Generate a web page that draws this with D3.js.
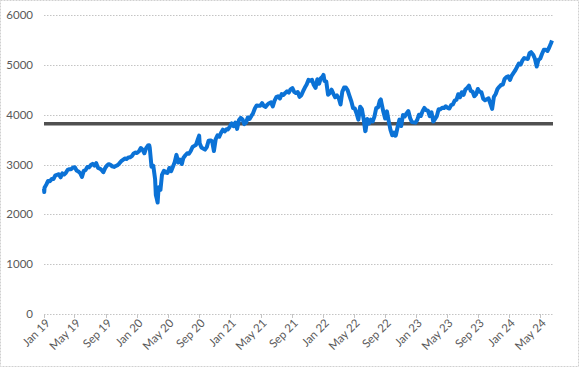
<!DOCTYPE html>
<html><head><meta charset="utf-8">
<script src="https://cdn.jsdelivr.net/npm/d3@7/dist/d3.min.js"></script>
<style>body{margin:0;background:#fff}svg{display:block}</style>
</head><body>
<svg id="c" width="580" height="368"></svg>
<script>
const yTicks = [0,1000,2000,3000,4000,5000,6000];
const xTickDates = ["2019-01-01","2019-05-01","2019-09-01","2020-01-01","2020-05-01","2020-09-01","2021-01-01","2021-05-01","2021-09-01","2022-01-01","2022-05-01","2022-09-01","2023-01-01","2023-05-01","2023-09-01","2024-01-01","2024-05-01"];
const xTickLabels = ["Jan 19","May 19","Sep 19","Jan 20","May 20","Sep 20","Jan 21","May 21","Sep 21","Jan 22","May 22","Sep 22","Jan 23","May 23","Sep 23","Jan 24","May 24"];
const refLevel = 3820;

const sp2019 = [["2019-01-02",2510],["2019-01-03",2448],["2019-01-04",2532],["2019-01-11",2596],["2019-01-18",2671],["2019-01-25",2665],["2019-02-01",2707],["2019-02-08",2708],["2019-02-15",2776],["2019-02-22",2793],["2019-03-01",2804],["2019-03-08",2743],["2019-03-15",2822],["2019-03-22",2800],["2019-03-29",2834],["2019-04-05",2893],["2019-04-12",2907],["2019-04-18",2905],["2019-04-26",2940],["2019-05-03",2946],["2019-05-10",2881],["2019-05-17",2860],["2019-05-24",2826],["2019-05-31",2752],["2019-06-07",2873],["2019-06-14",2887],["2019-06-21",2950],["2019-06-28",2942],["2019-07-05",2990],["2019-07-12",3014],["2019-07-19",2977],["2019-07-26",3026],["2019-08-02",2932],["2019-08-09",2919],["2019-08-16",2889],["2019-08-23",2847],["2019-08-30",2926],["2019-09-06",2979],["2019-09-13",3007],["2019-09-20",2992],["2019-09-27",2962],["2019-10-04",2952],["2019-10-11",2970],["2019-10-18",2986],["2019-10-25",3023],["2019-11-01",3067],["2019-11-08",3093],["2019-11-15",3120],["2019-11-22",3110],["2019-11-29",3141],["2019-12-06",3146],["2019-12-13",3169],["2019-12-20",3221],["2019-12-27",3240],["2019-12-31",3231]];
const sp2020 = [["2020-01-03",3235],["2020-01-10",3265],["2020-01-17",3330],["2020-01-24",3295],["2020-01-31",3226],["2020-02-07",3328],["2020-02-14",3380],["2020-02-19",3386],["2020-02-21",3338],["2020-02-28",2954],["2020-03-06",2972],["2020-03-13",2711],["2020-03-16",2386],["2020-03-20",2305],["2020-03-23",2237],["2020-03-27",2541],["2020-04-03",2489],["2020-04-09",2790],["2020-04-17",2875],["2020-04-24",2837],["2020-05-01",2831],["2020-05-08",2930],["2020-05-15",2864],["2020-05-22",2955],["2020-05-29",3044],["2020-06-05",3194],["2020-06-12",3041],["2020-06-19",3098],["2020-06-26",3009],["2020-07-02",3130],["2020-07-10",3185],["2020-07-17",3225],["2020-07-24",3216],["2020-07-31",3271],["2020-08-07",3351],["2020-08-14",3373],["2020-08-21",3397],["2020-08-28",3508],["2020-09-02",3580],["2020-09-04",3427],["2020-09-11",3341],["2020-09-18",3319],["2020-09-25",3298],["2020-10-02",3348],["2020-10-09",3477],["2020-10-16",3484],["2020-10-23",3465],["2020-10-30",3270],["2020-11-06",3510],["2020-11-13",3585],["2020-11-20",3558],["2020-11-27",3638],["2020-12-04",3699],["2020-12-11",3663],["2020-12-18",3709],["2020-12-24",3703],["2020-12-31",3756]];
const sp2021 = [["2021-01-08",3825],["2021-01-15",3768],["2021-01-22",3841],["2021-01-29",3714],["2021-02-05",3887],["2021-02-12",3934],["2021-02-19",3907],["2021-02-26",3811],["2021-03-05",3842],["2021-03-12",3943],["2021-03-19",3913],["2021-03-26",3975],["2021-04-01",4020],["2021-04-09",4129],["2021-04-16",4185],["2021-04-23",4180],["2021-04-30",4181],["2021-05-07",4233],["2021-05-14",4174],["2021-05-21",4156],["2021-05-28",4204],["2021-06-04",4230],["2021-06-11",4247],["2021-06-18",4166],["2021-06-25",4281],["2021-07-02",4352],["2021-07-09",4370],["2021-07-16",4327],["2021-07-23",4412],["2021-07-30",4395],["2021-08-06",4437],["2021-08-13",4468],["2021-08-20",4442],["2021-08-27",4509],["2021-09-03",4535],["2021-09-10",4459],["2021-09-17",4433],["2021-09-24",4455],["2021-10-01",4357],["2021-10-08",4391],["2021-10-15",4471],["2021-10-22",4545],["2021-10-29",4605],["2021-11-05",4697],["2021-11-12",4683],["2021-11-19",4698],["2021-11-26",4595],["2021-12-03",4538],["2021-12-10",4712],["2021-12-17",4621],["2021-12-23",4726],["2021-12-31",4766]];
const sp2022 = [["2022-01-03",4797],["2022-01-07",4677],["2022-01-14",4663],["2022-01-21",4398],["2022-01-28",4432],["2022-02-04",4501],["2022-02-11",4419],["2022-02-18",4349],["2022-02-25",4385],["2022-03-04",4329],["2022-03-11",4204],["2022-03-18",4463],["2022-03-25",4543],["2022-04-01",4546],["2022-04-08",4488],["2022-04-14",4393],["2022-04-22",4272],["2022-04-29",4132],["2022-05-06",4123],["2022-05-13",4024],["2022-05-20",3901],["2022-05-27",4158],["2022-06-03",4109],["2022-06-10",3901],["2022-06-16",3667],["2022-06-17",3675],["2022-06-24",3912],["2022-07-01",3825],["2022-07-08",3899],["2022-07-15",3863],["2022-07-22",3962],["2022-07-29",4130],["2022-08-05",4145],["2022-08-12",4280],["2022-08-16",4305],["2022-08-19",4228],["2022-08-26",4058],["2022-09-02",3924],["2022-09-09",4067],["2022-09-16",3873],["2022-09-23",3693],["2022-09-30",3586],["2022-10-07",3640],["2022-10-12",3577],["2022-10-14",3583],["2022-10-21",3752],["2022-10-28",3901],["2022-11-04",3771],["2022-11-11",3993],["2022-11-18",3965],["2022-11-25",4026],["2022-12-02",4072],["2022-12-09",3934],["2022-12-16",3852],["2022-12-23",3845],["2022-12-30",3840]];
const sp2023 = [["2023-01-06",3895],["2023-01-13",3999],["2023-01-20",3973],["2023-01-27",4071],["2023-02-03",4136],["2023-02-10",4090],["2023-02-17",4079],["2023-02-24",3970],["2023-03-03",4046],["2023-03-10",3862],["2023-03-17",3917],["2023-03-24",3971],["2023-03-31",4109],["2023-04-06",4105],["2023-04-14",4138],["2023-04-21",4133],["2023-04-28",4169],["2023-05-05",4136],["2023-05-12",4124],["2023-05-19",4192],["2023-05-26",4205],["2023-06-02",4282],["2023-06-09",4299],["2023-06-16",4410],["2023-06-23",4348],["2023-06-30",4450],["2023-07-07",4399],["2023-07-14",4505],["2023-07-21",4536],["2023-07-28",4582],["2023-08-04",4478],["2023-08-11",4464],["2023-08-18",4370],["2023-08-25",4406],["2023-09-01",4516],["2023-09-08",4457],["2023-09-15",4450],["2023-09-22",4320],["2023-09-29",4288],["2023-10-06",4309],["2023-10-13",4327],["2023-10-20",4224],["2023-10-27",4117],["2023-11-03",4358],["2023-11-10",4415],["2023-11-17",4514],["2023-11-24",4559],["2023-12-01",4595],["2023-12-08",4604],["2023-12-15",4719],["2023-12-22",4755],["2023-12-29",4770]];
const sp2024 = [["2024-01-05",4697],["2024-01-12",4784],["2024-01-19",4840],["2024-01-26",4891],["2024-02-02",4959],["2024-02-09",5027],["2024-02-16",5006],["2024-02-23",5089],["2024-03-01",5137],["2024-03-08",5124],["2024-03-15",5117],["2024-03-22",5234],["2024-03-28",5254],["2024-04-05",5204],["2024-04-12",5123],["2024-04-19",4967],["2024-04-26",5100],["2024-05-03",5128],["2024-05-10",5223],["2024-05-17",5303],["2024-05-24",5305],["2024-05-31",5278],["2024-06-07",5347],["2024-06-14",5432],["2024-06-18",5487]];

const parse = d3.timeParse("%Y-%m-%d");
const data = [].concat(sp2019, sp2020, sp2021, sp2022, sp2023, sp2024).map(d => ({date: parse(d[0]), value: d[1]}));

const svg = d3.select("#c");
const font = "Lato, 'Open Sans', sans-serif";

// outer chart border
svg.append("rect").attr("x",0.5).attr("y",0.5).attr("width",578).attr("height",366)
  .attr("fill","none").attr("stroke","#d0d0d0").attr("stroke-dasharray","2,1");

const x = d3.scaleTime().domain([data[0].date, data[data.length-1].date]).range([44, 552]);
const y = d3.scaleLinear().domain([0, 6000]).range([314, 15]);

// gridlines
svg.append("g").selectAll("line").data(yTicks).join("line")
  .attr("x1",44).attr("x2",553)
  .attr("y1",d=>Math.round(y(d))+0.5).attr("y2",d=>Math.round(y(d))+0.5)
  .attr("stroke","#c4c4c4").attr("stroke-width",1).attr("stroke-dasharray","1.5,1.5");

// y labels
svg.append("g").selectAll("text").data(yTicks).join("text")
  .attr("x",33).attr("y",d=>y(d)).attr("dy","0.35em")
  .attr("text-anchor","end").attr("font-family",font).attr("font-size",11.5)
  .attr("fill","#595959").text(d=>d);

// x ticks
const tickDates = xTickDates.map(parse);
svg.append("g").selectAll("line").data(tickDates).join("line")
  .attr("x1",d=>Math.round(x(d))+0.5).attr("x2",d=>Math.round(x(d))+0.5)
  .attr("y1",314).attr("y2",318).attr("stroke","#c4c4c4");

svg.append("g").selectAll("text").data(tickDates).join("text")
  .attr("transform",(d)=>`translate(${x(d)+4},${321}) rotate(-45)`)
  .attr("text-anchor","end").attr("dy","0.35em")
  .attr("font-family",font).attr("font-size",11.5).attr("fill","#595959")
  .text((d,i)=>xTickLabels[i]);

// reference line
svg.append("line").attr("x1",44).attr("x2",553)
  .attr("y1",y(refLevel)).attr("y2",y(refLevel))
  .attr("stroke","#505050").attr("stroke-width",3.5);

// S&P line
const line = d3.line().x(d=>x(d.date)).y(d=>y(d.value));
svg.append("path").datum(data).attr("d",line)
  .attr("fill","none").attr("stroke","#0B72D6").attr("stroke-width",4)
  .attr("stroke-linejoin","round");
</script>
</body></html>
